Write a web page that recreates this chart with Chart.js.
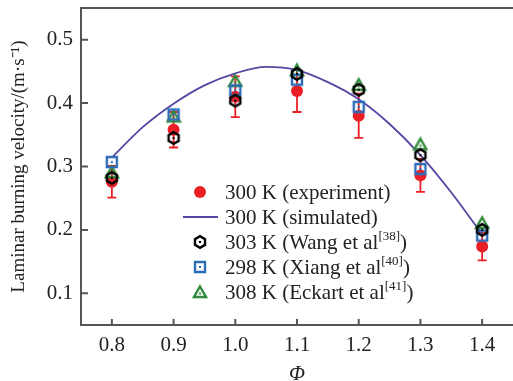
<!DOCTYPE html>
<html>
<head>
<meta charset="utf-8">
<script src="https://cdn.jsdelivr.net/npm/chart.js@4/dist/chart.umd.min.js"></script>
<style>
  html, body { margin: 0; padding: 0; background: #fff; overflow: hidden; }
  canvas { display: block; }
</style>
</head>
<body>
<canvas id="chart" width="519" height="381"></canvas>
<script>
// equivalence ratio at the measured points
var phi = [0.8, 0.9, 1.0, 1.1, 1.2, 1.3, 1.4];
// 300 K experiment and its error
var expVals = [0.276, 0.358, 0.410, 0.419, 0.380, 0.286, 0.174];
var expErr  = [0.025, 0.028, 0.032, 0.033, 0.035, 0.026, 0.022];
// 300 K simulated curve
var simPhi  = [0.8, 0.85, 0.9, 0.95, 1.0, 1.05, 1.1, 1.15, 1.2, 1.25, 1.3, 1.35, 1.4];
var simVals = [0.314, 0.362, 0.399, 0.428, 0.447, 0.457, 0.452, 0.433, 0.406, 0.367, 0.318, 0.259, 0.193];
// literature
var wangVals   = [0.282, 0.345, 0.404, 0.446, 0.421, 0.318, 0.200];
var xiangVals  = [0.307, 0.382, 0.420, 0.437, 0.394, 0.296, 0.191];
var eckartVals = [0.291, 0.379, 0.435, 0.452, 0.429, 0.335, 0.211];

var xTicks = [0.8, 0.9, 1.0, 1.1, 1.2, 1.3, 1.4];
var yTicks = [0.1, 0.2, 0.3, 0.4, 0.5];

var RED = '#ea1f26', PURPLE = '#5546a2', BLACK = '#000', BLUE = '#2d6db7', GREEN = '#2f8a3b';
var AXIS = '#555';
var FONT = '"Liberation Serif", "Times New Roman", serif';

function pts(xs, ys) {
  return xs.map(function (x, i) { return { x: x, y: ys[i] }; });
}

function marker(kind, color) {
  var c = document.createElement('canvas');
  c.width = 16; c.height = 16;
  var g = c.getContext('2d');
  g.strokeStyle = color; g.fillStyle = color; g.lineWidth = 2.4;
  g.beginPath();
  if (kind === 'hex') {
    for (var i = 0; i < 6; i++) {
      var a = Math.PI / 6 + i * Math.PI / 3;
      var px = 8 + 5.8 * Math.cos(a), py = 8 + 5.8 * Math.sin(a);
      if (i === 0) g.moveTo(px, py); else g.lineTo(px, py);
    }
    g.closePath();
  } else if (kind === 'square') {
    g.rect(3, 3, 10, 10);
  } else {
    g.moveTo(8, 2.5); g.lineTo(14, 13); g.lineTo(2, 13); g.closePath();
  }
  g.stroke();
  g.fillRect(7, kind === 'tri' ? 8.5 : 7, 2, 2);
  return c;
}

var hexImg = marker('hex', BLACK);
var sqImg = marker('square', BLUE);
var triImg = marker('tri', GREEN);

var errorBars = {
  id: 'errorBars',
  beforeDatasetsDraw: function (chart) {
    var ctx = chart.ctx, xs = chart.scales.x, ys = chart.scales.y;
    ctx.save();
    ctx.strokeStyle = RED; ctx.lineWidth = 1.8;
    phi.forEach(function (p, i) {
      var x = xs.getPixelForValue(p);
      var lo = ys.getPixelForValue(expVals[i] - expErr[i]);
      var hi = ys.getPixelForValue(expVals[i] + expErr[i]);
      ctx.beginPath();
      ctx.moveTo(x, lo); ctx.lineTo(x, hi);
      ctx.moveTo(x - 4.5, lo); ctx.lineTo(x + 4.5, lo);
      ctx.moveTo(x - 4.5, hi); ctx.lineTo(x + 4.5, hi);
      ctx.stroke();
    });
    ctx.restore();
  }
};

var frame = {
  id: 'frame',
  afterDraw: function (chart) {
    var ctx = chart.ctx, a = chart.chartArea;
    ctx.save();
    ctx.strokeStyle = AXIS; ctx.lineWidth = 2;
    ctx.beginPath();
    ctx.moveTo(a.left, a.top); ctx.lineTo(a.right, a.top);
    chart.scales.x.ticks.forEach(function (t) {
      var x = chart.scales.x.getPixelForValue(t.value);
      ctx.moveTo(x, a.bottom); ctx.lineTo(x, a.bottom - 6);
    });
    chart.scales.y.ticks.forEach(function (t) {
      var y = chart.scales.y.getPixelForValue(t.value);
      ctx.moveTo(a.left, y); ctx.lineTo(a.left + 7, y);
    });
    ctx.stroke();
    ctx.restore();
  }
};

var legendRows = [
  { kind: 'dot', text: '300 K (experiment)', sup: '', tail: '' },
  { kind: 'line', text: '300 K (simulated)', sup: '', tail: '' },
  { kind: hexImg, text: '303 K (Wang et al', sup: '[38]', tail: ')' },
  { kind: sqImg, text: '298 K (Xiang et al', sup: '[40]', tail: ')' },
  { kind: triImg, text: '308 K (Eckart et al', sup: '[41]', tail: ')' }
];

var legend = {
  id: 'innerLegend',
  afterDraw: function (chart) {
    var ctx = chart.ctx;
    var mx = 200, tx = 225, y0 = 192, dy = 25;
    ctx.save();
    ctx.textBaseline = 'middle';
    legendRows.forEach(function (r, i) {
      var y = y0 + i * dy;
      if (r.kind === 'dot') {
        ctx.fillStyle = RED;
        ctx.beginPath(); ctx.arc(mx, y, 6, 0, Math.PI * 2); ctx.fill();
      } else if (r.kind === 'line') {
        ctx.strokeStyle = PURPLE; ctx.lineWidth = 1.8;
        ctx.beginPath(); ctx.moveTo(183, y); ctx.lineTo(218, y); ctx.stroke();
      } else {
        ctx.drawImage(r.kind, mx - 8, y - 8);
      }
      ctx.fillStyle = '#222';
      ctx.font = '21px ' + FONT;
      ctx.fillText(r.text, tx, y + 1);
      var w = ctx.measureText(r.text).width;
      if (r.sup) {
        ctx.font = '13px ' + FONT;
        ctx.fillText(r.sup, tx + w, y - 5);
        var w2 = ctx.measureText(r.sup).width;
        ctx.font = '21px ' + FONT;
        ctx.fillText(r.tail, tx + w + w2, y + 1);
      }
    });
    ctx.restore();
  }
};

new Chart(document.getElementById('chart'), {
  type: 'scatter',
  data: {
    datasets: [
      { label: '308 K (Eckart et al[41])', data: pts(phi, eckartVals), pointStyle: triImg, order: 8 },
      { label: '298 K (Xiang et al[40])', data: pts(phi, xiangVals), pointStyle: sqImg, order: 7 },
      { label: '303 K (Wang et al[38])', data: pts(phi, wangVals), pointStyle: hexImg, order: 6 },
      { label: '300 K (simulated)', data: pts(simPhi, simVals), showLine: true, pointRadius: 0,
        borderColor: PURPLE, borderWidth: 1.8, cubicInterpolationMode: 'monotone', order: 9 },
      { label: '300 K (experiment)', data: pts(phi, expVals), pointStyle: 'circle', pointRadius: 6,
        backgroundColor: RED, borderColor: RED, borderWidth: 0, order: 10 }
    ]
  },
  options: {
    responsive: false,
    animation: false,
    layout: { padding: { top: 8, right: 0, left: 0, bottom: 0 } },
    plugins: { legend: { display: false }, tooltip: { enabled: false } },
    scales: {
      x: {
        type: 'linear', min: 0.75, max: 1.45,
        afterBuildTicks: function (s) { s.ticks = xTicks.map(function (v) { return { value: v }; }); },
        afterFit: function (s) { s.height = 56; s.paddingLeft = 0; s.paddingRight = 0; },
        grid: { display: false, drawTicks: false },
        border: { color: AXIS, width: 2 },
        ticks: { padding: 8, color: '#222', font: { family: FONT, size: 21 },
                 callback: function (v) { return v.toFixed(1); } },
        title: { display: true, text: 'Φ', color: '#222', padding: { top: 0, bottom: -6 },
                 font: { family: FONT, size: 21, style: 'italic' } }
      },
      y: {
        type: 'linear', min: 0.05, max: 0.55,
        afterBuildTicks: function (s) { s.ticks = yTicks.map(function (v) { return { value: v }; }); },
        afterFit: function (s) { s.width = 81; s.paddingTop = 0; s.paddingBottom = 0; },
        grid: { display: false, drawTicks: false },
        border: { color: AXIS, width: 2 },
        ticks: { padding: 8, color: '#222', font: { family: FONT, size: 21 },
                 callback: function (v) { return v.toFixed(1); } },
        title: { display: true, text: 'Laminar burning velocity/(m·s⁻¹)', color: '#222',
                 padding: { top: 8, bottom: 0 }, font: { family: FONT, size: 19 } }
      }
    }
  },
  plugins: [errorBars, frame, legend]
});
</script>
</body>
</html>
